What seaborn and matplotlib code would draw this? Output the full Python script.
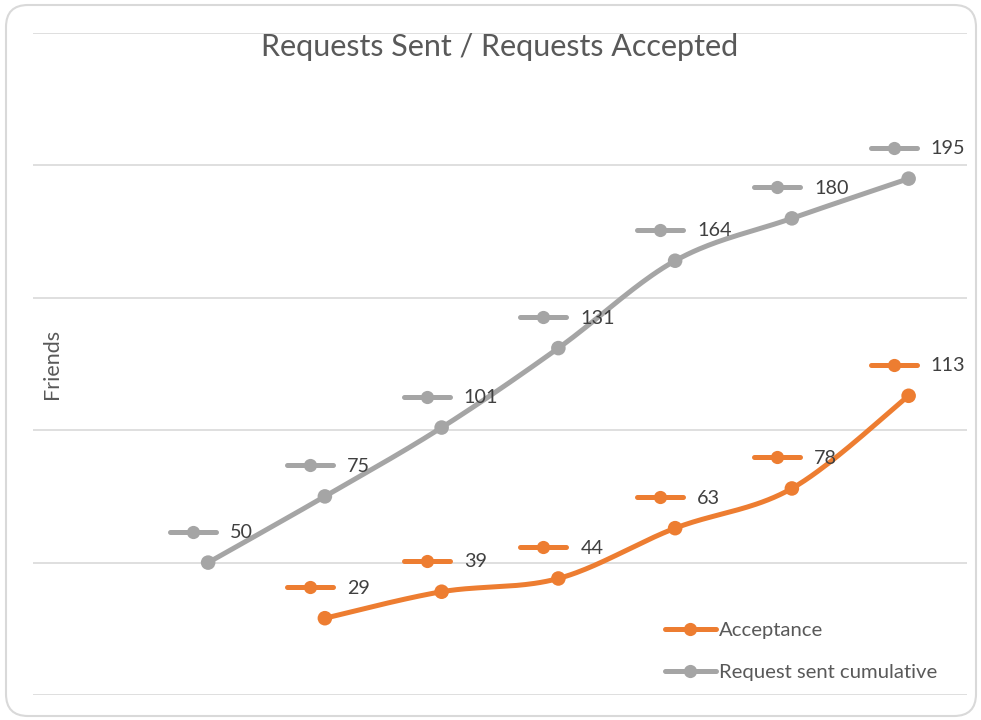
import numpy as np
import pandas as pd
import matplotlib
matplotlib.use("Agg")
import matplotlib.pyplot as plt
import seaborn as sns
from matplotlib.patches import FancyBboxPatch
from matplotlib.lines import Line2D
from matplotlib.markers import MarkerStyle
from matplotlib.transforms import offset_copy, IdentityTransform

# ---- data ----
sent_positions = [1, 2, 3, 4, 5, 6, 7]
request_sent = [50, 75, 101, 131, 164, 180, 195]
acc_positions = [2, 3, 4, 5, 6, 7]
acceptance = [29, 39, 44, 63, 78, 113]
series_names = ["Acceptance", "Request sent cumulative"]
y_ticks = [0, 50, 100, 150, 200, 250]

title = "Requests Sent / Requests Accepted"
y_label = "Friends"

ORANGE = "#ED7D31"
GRAY = "#A5A5A5"
GRID = "#D9D9D9"
TXT = "#595959"
LBL = "#404040"

sns.set_theme(style="white")
plt.rcParams["font.family"] = ["Lato", "DejaVu Sans"]

W, H = 981, 720
fig = plt.figure(figsize=(W / 100, H / 100), dpi=100)
ax = fig.add_axes([33 / W, 25 / H, (967 - 33) / W, (695 - 33) / H])


def smooth(xs, ys, n=40):
    """Excel-like smoothed curve (Catmull-Rom Bezier) through the points."""
    P = np.column_stack([xs, ys]).astype(float)
    out = []
    for i in range(len(P) - 1):
        p0 = P[i - 1] if i > 0 else P[i]
        p1, p2 = P[i], P[i + 1]
        p3 = P[i + 2] if i + 2 < len(P) else P[i + 1]
        c1 = p1 + (p2 - p0) / 6
        c2 = p2 - (p3 - p1) / 6
        t = np.linspace(0, 1, n)[:, None]
        seg = ((1 - t) ** 3) * p1 + 3 * ((1 - t) ** 2) * t * c1 + 3 * (1 - t) * t ** 2 * c2 + t ** 3 * p2
        out.append(seg if i == 0 else seg[1:])
    return np.vstack(out)


for xs, ys, col in [(sent_positions, request_sent, GRAY), (acc_positions, acceptance, ORANGE)]:
    curve = smooth(xs, ys)
    df = pd.DataFrame({"x": curve[:, 0], "y": curve[:, 1]})
    sns.lineplot(data=df, x="x", y="y", ax=ax, color=col, lw=3.6, sort=False,
                 solid_capstyle="round", zorder=3)
    pts = pd.DataFrame({"x": xs, "y": ys})
    sns.scatterplot(data=pts, x="x", y="y", ax=ax, color=col, s=110, edgecolor="none",
                    zorder=4)

    # data labels with legend key
    for x, y in zip(xs, ys):
        tkey = offset_copy(ax.transData, fig=fig, x=-15, y=31, units="dots")
        ax.plot([x], [y], marker=MarkerStyle("_", capstyle="round"), ms=33, mew=3.6,
                color=col, transform=tkey, clip_on=False, zorder=5)
        ax.plot([x], [y], marker="o", ms=9.5, mew=0, color=col, transform=tkey,
                clip_on=False, zorder=6)
        ttxt = offset_copy(ax.transData, fig=fig, x=22, y=30, units="dots")
        ax.text(x, y, str(y), transform=ttxt, ha="left", va="center",
                fontsize=14.2, color=LBL, zorder=6)

ax.set_xlim(-0.5, 7.5)
ax.set_ylim(0, 250)
ax.set_yticks(y_ticks)
ax.set_xticks([])
ax.yaxis.grid(True, color=GRID, lw=1.2)
ax.set_yticklabels([])
ax.tick_params(left=False, bottom=False)
for s in ax.spines.values():
    s.set_visible(False)
ax.set_xlabel("")
ax.set_ylabel("")

fig.text(500 / W, 1 - 47 / H, title, ha="center", va="center", fontsize=22, color=TXT)
fig.text(52 / W, 1 - 364 / H, y_label, rotation=90, ha="center", va="center",
         fontsize=15.5, color=TXT)

handles = [
    Line2D([0], [0], color=ORANGE, lw=3.6, marker="o", ms=9.5, mew=0),
    Line2D([0], [0], color=GRAY, lw=3.6, marker="o", ms=9.5, mew=0),
]
fig.legend(handles, series_names, loc="upper left",
           bbox_to_anchor=(665 / W, 1 - 622 / H), frameon=False, fontsize=14.6,
           handlelength=2.5, handletextpad=0.15, labelspacing=1.2, borderpad=0,
           borderaxespad=0, labelcolor=TXT)

border = FancyBboxPatch((6, 4), 970, 711, boxstyle="round,pad=0,rounding_size=22",
                        transform=IdentityTransform(), facecolor="none",
                        edgecolor=GRID, lw=1.5, zorder=0)
fig.patches.append(border)

fig.savefig("out.png", dpi=100)
